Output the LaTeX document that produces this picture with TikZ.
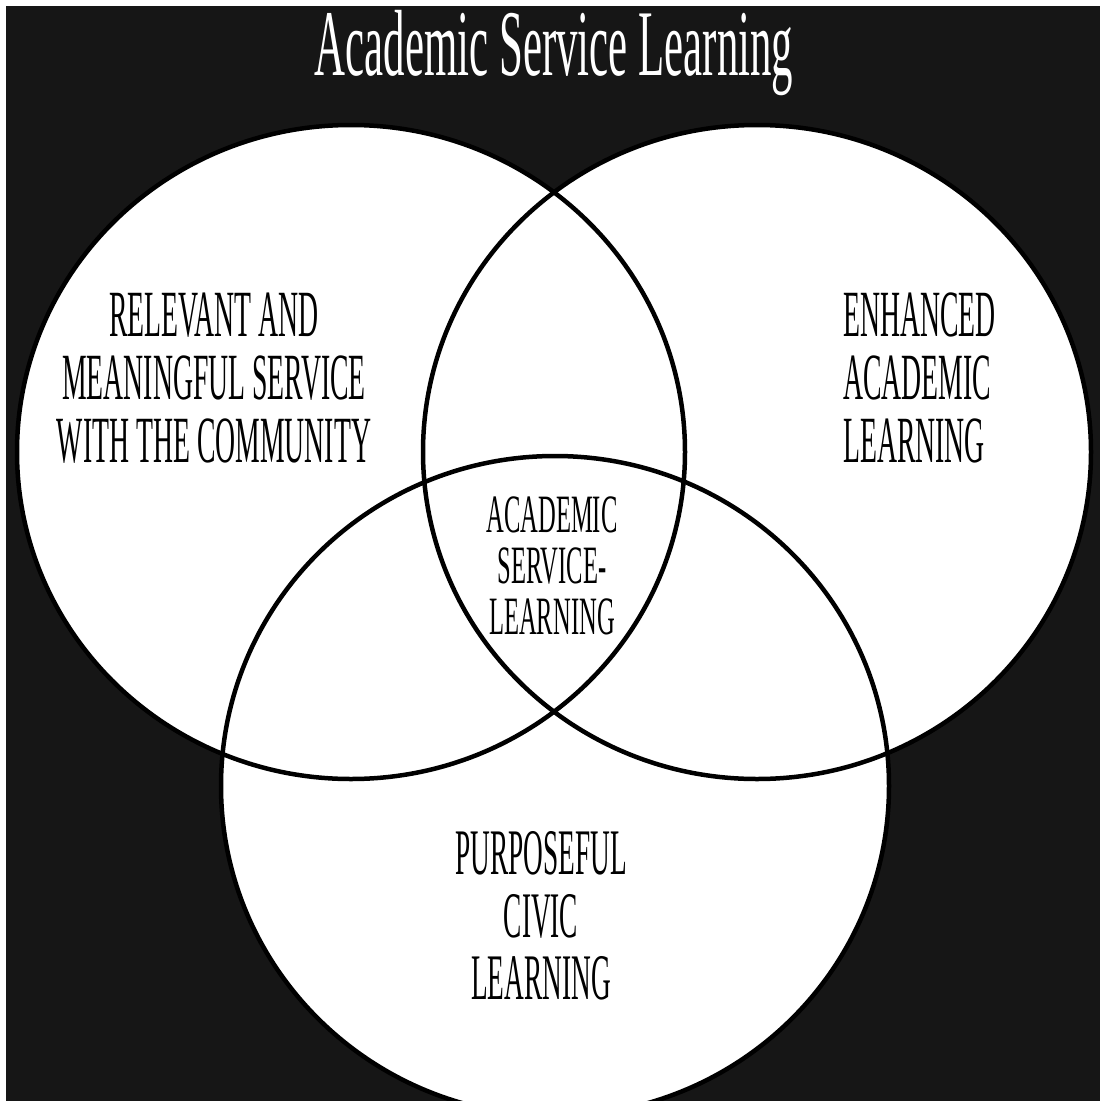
\documentclass[tikz,border=0pt]{standalone}
\usepackage{fontspec}
\newfontfamily\titlefont[FakeStretch=0.456]{Liberation Serif}
\newfontfamily\bodyfont[FakeStretch=0.42]{Liberation Serif}
\newfontfamily\midfont[FakeStretch=0.455]{Liberation Serif}
\definecolor{bg}{RGB}{22,22,22}
\begin{document}
\begin{tikzpicture}[x=1pt,y=-1pt,
  ring/.style={line width=4.5pt, draw=black},
  disc/.style={fill=white},
  lbl/.style={inner sep=0pt, text=black, align=center}]
\useasboundingbox (0,0) rectangle (1100,1101);
\clip (0,0) rectangle (1100,1101);
\fill[white] (0,0) rectangle (1100,1101);
\fill[bg] (6,6) rectangle (1100,1101);
% discs
\fill[disc] (351,452) ellipse [x radius=334pt, y radius=327pt];
\fill[disc] (757,452) ellipse [x radius=334pt, y radius=327pt];
\fill[disc] (555,786) ellipse [x radius=334pt, y radius=330pt];
% outlines
\draw[ring] (351,452) ellipse [x radius=334pt, y radius=327pt];
\draw[ring] (757,452) ellipse [x radius=334pt, y radius=327pt];
\draw[ring] (555,786) ellipse [x radius=334pt, y radius=330pt];
% texts
\node[lbl, anchor=base, text=white, font=\titlefont\fontsize{94}{100}\selectfont] (title) at (554,75) {Academic Service Learning};
\node[lbl, font=\bodyfont\fontsize{66}{63}\selectfont] (serv) at (214,378) {RELEVANT AND\\MEANINGFUL SERVICE\\WITH THE COMMUNITY};
\node[lbl, align=left, anchor=west, font=\bodyfont\fontsize{66}{63}\selectfont] (acad) at (843,378) {ENHANCED\\ACADEMIC\\LEARNING};
\node[lbl, font=\midfont\fontsize{54}{51}\selectfont] (core) at (552,566) {ACADEMIC\\SERVICE-\\LEARNING};
\node[lbl, font=\bodyfont\fontsize{65}{62.5}\selectfont] (civic) at (541,916) {PURPOSEFUL\\CIVIC\\LEARNING};
\end{tikzpicture}
\end{document}
